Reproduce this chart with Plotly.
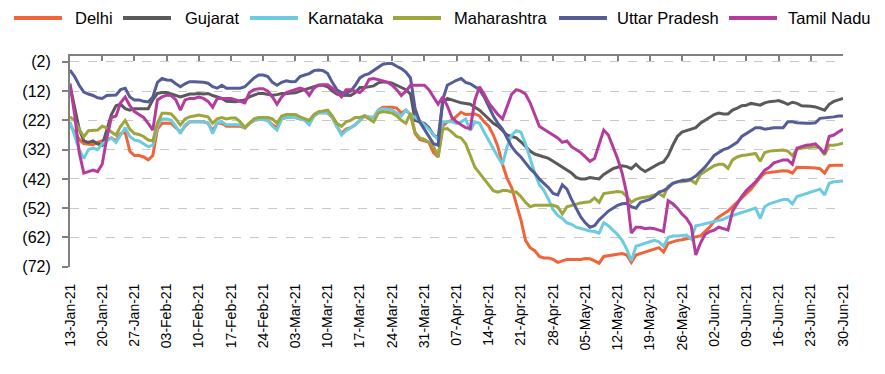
import pandas as pd
import plotly.graph_objects as go

dates = pd.date_range("2021-01-13", "2021-06-30", freq="D").strftime("%Y-%m-%d").tolist()
tick_dates = pd.date_range("2021-01-13", "2021-06-30", freq="7D").strftime("%Y-%m-%d").tolist()
y_ticks = [-2, -12, -22, -32, -42, -52, -62, -72]
y_tick_labels = ["(2)", "(12)", "(22)", "(32)", "(42)", "(52)", "(62)", "(72)"]

delhi = [
    -23.6, -26, -28.5, -29.9, -30, -30.3, -29.5, -29, -28.5, -28, -29, -26.5, -26, -32.5, -34, -34, -34.5, -35.5, -34, -25, -23, -23, -23, -24.5, -26, -24, -22.5, -22.5, -22.5,
    -22.5, -23, -25.5, -23, -23, -24, -24, -24, -24, -24.5, -23, -22, -21.7, -21.7, -22, -23.5, -24.5, -21.5, -21, -21, -21, -21.5, -21.8, -23, -20.5, -19.5, -19.3, -19.5,
    -21, -24, -26.5, -25, -24.5, -23.5, -22, -20.5, -20.8, -21, -18.5, -17.5, -17.5, -17.5, -17.8, -19.5, -18.5, -20, -26.5, -28.5,
    -29, -29.5, -33, -34.5, -24, -22.5, -22, -20.5, -19.2, -20, -20, -19.8, -20.5, -22.5, -24, -27, -31, -37, -41.8, -45,
    -50.5, -56, -63, -65.5, -66.5, -68.5, -69, -69, -69.5, -70.5, -70, -69.5, -69.5, -69.5, -69.5,
    -69.2, -69.3, -70, -70.8, -68.5, -68.3, -68, -67.8, -67.5, -68, -70.5, -68, -67.5, -67, -66.5, -66, -65.5, -67, -64, -63.5,
    -63, -62.8, -62.5, -62.2, -62, -61.5, -60, -58.5, -56.5, -55, -54, -53, -51.5, -50, -48.5, -47, -45.5, -43.5, -41.5, -40,
    -39.8, -39.5, -39.3, -39.2, -39.3, -40, -38, -38, -38.1, -38.2, -38.3, -38.5, -40, -37.5, -37.3, -37.3, -37.3,
]
gujarat = [
    -10, -17, -25, -29, -29.5, -29, -30, -30.5, -25, -20, -17, -16.5, -18, -18.5, -18, -18, -18, -18, -15, -12.8, -12.5, -12.5, -13, -13.5, -14, -13.5, -13, -13, -12.8,
    -13, -12.8, -13.5, -14, -14.5, -15.5, -15.6, -15.6, -15.3, -15, -14, -13.4, -12.8, -12.8, -13, -13.4, -13.2, -12.8, -12.8, -12.8, -12.6, -12, -11.5, -11, -10.5, -10, -10, -10.5,
    -12, -13, -13.4, -13.4, -13.5, -12.5, -10.8, -10.8, -10.5, -10.2, -9.2, -8.8, -9, -9.3, -10, -10.8, -11.5, -13, -22, -22.5,
    -23, -24.5, -27, -28, -16, -14.5, -15, -15.5, -16, -16.2, -16.5, -17.5, -18.5, -20, -21.5, -23, -24, -25.5, -27, -27.5,
    -28, -29.3, -31, -32.5, -33.5, -34, -34.5, -35, -36, -37, -38, -39, -40, -41.5, -42,
    -42, -41.5, -41.8, -42, -40.5, -39.5, -38.5, -38, -37.5, -37.8, -38.5, -37, -38.5, -39.5, -38.5, -37.5, -36.8, -36.2, -34, -30.5,
    -27.5, -26, -25.5, -25, -24.5, -23, -22, -20.8, -20, -19.5, -19.8, -19.8, -18.5, -17.8, -17, -16.8, -16.2, -16.5, -16.8, -16,
    -15.6, -15.5, -15.2, -15.8, -16.5, -15.8, -16.2, -17, -17, -17.2, -17.4, -18, -18.5, -16.5, -15.5, -15, -14.5,
]
karnataka = [
    -22.5, -27, -32, -35, -32, -31.5, -32, -30, -29, -28, -29.5, -27, -24.5, -27.5, -28.7, -29, -30, -31, -30.5, -24, -21.5, -21.5, -22, -24, -26.5, -23.5, -22.5, -22.5, -22.5,
    -22.5, -22.8, -26.5, -23, -22.5, -23.5, -23.5, -23.5, -23.5, -24.5, -23, -22, -21.7, -21.7, -22, -24, -25.3, -21.5, -21, -21, -21, -21.5, -22, -23.5, -20.5, -19.5, -19.3, -19.3,
    -21, -24, -27, -25.5, -24.5, -23.5, -22, -20.5, -20.8, -21, -18.5, -18, -18.2, -18.5, -19.5, -20.5, -18.5, -20, -21, -22,
    -23.5, -25, -27, -28.5, -22.5, -22.5, -22.5, -23, -22.5, -21.5, -25.5, -22.5, -23, -26, -29, -32, -34.5, -37, -31, -27,
    -25.5, -26, -30, -35, -40, -44, -46, -49, -52.5, -54.5, -55.5, -57, -57.5, -58.5, -59,
    -59.5, -59.8, -60, -60.5, -57, -58, -59.5, -61, -63, -66, -70, -65, -64.5, -64, -63.5, -63, -63.5, -65, -62, -61.5,
    -61.5, -61.3, -61.2, -62.5, -58, -57.7, -57.3, -57, -56.6, -56.2, -55.8, -55, -54.5, -54, -53.5, -53, -52.5, -52, -55.5, -51.5,
    -50.5, -50, -49.5, -49, -49, -50.5, -48, -47.5, -47, -46.5, -46, -45.5, -47.5, -43.5, -43, -42.8, -42.7,
]
maharashtra = [
    -20.8, -22, -25, -27.6, -25.5, -25.5, -25.3, -24, -24.5, -26, -27, -24, -22, -25, -26.5, -26.8, -27.5, -28.7, -29, -23, -19.6, -19.6, -19.8, -21.5, -23.6, -21.5, -20.8, -20.5, -20.2,
    -20.5, -20.8, -23, -21.5, -21, -21.5, -21.2, -21.2, -22.5, -24.5, -23, -21.5, -21, -21, -21, -21.5, -23, -20.5, -20, -20, -20, -20.8, -21.5, -22, -20, -19, -18.8, -18.5,
    -20.5, -23, -24, -22.5, -22, -21, -21, -20.5, -21.5, -22.5, -19.5, -19, -19.2, -19.5, -20.5, -22, -23, -19.5, -26, -28,
    -28.5, -29.5, -31, -34.5, -25, -24.8, -26, -27.5, -28, -30, -34, -38, -40, -42, -44, -46, -46.5, -46, -46, -46.5,
    -46.5, -48, -50, -51.5, -51, -51, -51, -51, -51, -51.5, -54, -51.5, -51, -50.5, -50.2,
    -50, -49.8, -48.5, -50, -47, -46.8, -46.5, -46.3, -46.5, -48, -50, -49, -48.5, -48.3, -48, -47.5, -47, -48, -44.5, -43.5,
    -43, -43, -42.8, -42.5, -43.5, -40.5, -39.5, -38.5, -37.5, -37, -37, -38.4, -35.5, -34.5, -34, -33.8, -33.5, -33.3, -36, -33,
    -32.5, -32.3, -32.2, -32.1, -32.5, -34, -31.8, -31.5, -31.3, -31.2, -31, -31.5, -33.8, -30.5, -30.5, -30.2, -29.8,
]
uttar_pradesh = [
    -4.8, -7, -10, -12.3, -13, -13.5, -14.3, -14.5, -13.5, -13.4, -13.3, -11.5, -11, -14, -15, -15, -15.5, -15.7, -14, -9, -7.7, -8.2, -8.3, -9.5, -10.5, -9.5, -8.8, -8.8, -8.8,
    -9, -9.3, -10.5, -11, -10, -11, -11, -11, -11, -10.5, -9, -7.5, -6.5, -6.5, -7, -9, -10, -9, -8.5, -8.8, -8.7, -7, -6.5, -6, -5, -4.8, -5, -6,
    -9, -11.5, -12.5, -12.8, -12, -10, -7.5, -6.5, -6, -5, -4, -2.8, -2.6, -2.6, -3.5, -4.3, -5.5, -7.5, -18, -22.5,
    -25, -27.5, -30, -30.5, -15, -10, -9, -8.3, -7.7, -9, -9.5, -10.5, -11.5, -14, -17.5, -20.5, -23, -25, -28, -31,
    -33, -34.5, -36.5, -38.5, -40, -42, -43.5, -45, -47, -47.5, -44, -45.5, -49, -52, -55,
    -57, -58.5, -58, -56, -54.5, -53, -52, -51, -50.5, -50.3, -51.5, -52, -50, -49.5, -49, -48, -46.5, -46, -45, -43.5,
    -43, -42.5, -42.5, -42, -41, -39.5, -38, -36, -34, -33, -32, -31.5, -30.5, -29.5, -27.5, -26.5, -25.5, -24.5, -24.5, -25,
    -24.8, -24.5, -24.5, -24.5, -22.5, -22.5, -22.8, -23, -23, -23, -22.8, -21.3, -21.2, -21, -20.8, -20.5, -20.5,
]
tamil_nadu = [
    -9.4, -20, -33, -40, -39.5, -39, -39.5, -37, -28, -21, -20.5, -16, -14, -17, -19, -20, -21, -23, -25.3, -15, -14, -13.4, -13.5, -15, -18.5, -15, -14.5, -14.5, -14,
    -14.5, -15.5, -17.5, -14.5, -14.5, -14.5, -14.5, -15, -15.5, -16, -12.5, -11.5, -11.2, -11.2, -12, -14, -16.5, -14, -12.5, -12, -11.5, -11, -11.5, -13.5, -11, -10, -9.8, -9.8,
    -11, -12.5, -14, -11.5, -11.5, -12, -12.5, -11, -8, -7.7, -8, -8.5, -9, -10, -11.5, -13.5, -12, -10, -10, -10,
    -10, -11.5, -14, -16.5, -14, -17, -21, -22.5, -23.5, -24.5, -24.8, -15, -10.5, -13, -16, -18, -20, -21.5, -17, -13,
    -11.5, -12, -13, -16, -20, -24, -25, -26, -27, -28, -29.5, -29, -31, -32, -33,
    -34.5, -36, -35, -30, -25.3, -27, -31, -35, -40, -47, -60.5, -58.5, -58.5, -59, -58.8, -59, -59.5, -60, -49.5, -50.5,
    -52, -54, -55.5, -58, -68, -64, -61, -60, -59.5, -58.5, -59, -59.5, -53, -50.5, -48, -46, -44.5, -43, -41, -39,
    -38, -36.5, -36, -35.5, -35.5, -37, -31.5, -31, -30.5, -30.3, -30, -31.5, -33.3, -27.5, -27, -26, -25,
]

names = ["Delhi", "Gujarat", "Karnataka", "Maharashtra", "Uttar Pradesh", "Tamil Nadu"]
values = [delhi, gujarat, karnataka, maharashtra, uttar_pradesh, tamil_nadu]
colors = ["#F0643A", "#5A5A5A", "#6CCBE0", "#9DA63C", "#555C98", "#B43C9C"]

fig = go.Figure()
for name, vals, color in zip(names, values, colors):
    assert len(vals) == len(dates), (name, len(vals))
    fig.add_trace(go.Scatter(x=dates, y=vals, name=name, mode="lines",
                             line=dict(color=color, width=3), showlegend=False))

# invisible trace that carries the top axis line
fig.add_trace(go.Scatter(x=[dates[0], dates[-1]], y=[None, None], xaxis="x2",
                         showlegend=False, hoverinfo="skip", mode="lines"))

font = "Liberation Sans, Arial, sans-serif"
xr = [dates[0], dates[-1]]
W, H = 869, 358          # page body keeps an 8px margin
ML, MR, MT, MB = 62, 34, 48, 99
PW, PH = W - ML - MR, H - MT - MB

# hand-placed legend row (figure pixels): sample line start, text start
legend_line_x = [6, 115, 242, 385, 551, 721]
legend_text_x = [65, 175, 298, 444, 607, 778]
legend_y_px = 10
ly = 1 + (MT - legend_y_px) / PH
shapes, annotations = [], []
for name, color, lx, tx in zip(names, colors, legend_line_x, legend_text_x):
    shapes.append(dict(type="line", xref="paper", yref="paper",
                       x0=(lx - ML) / PW, x1=(lx + 48 - ML) / PW, y0=ly, y1=ly,
                       line=dict(color=color, width=4)))
    annotations.append(dict(text=name, xref="paper", yref="paper", x=(tx - ML) / PW, y=ly,
                            xanchor="left", yanchor="middle", showarrow=False,
                            font=dict(size=16.5, family=font, color="#000000")))

fig.update_layout(
    width=W, height=H,
    margin=dict(l=ML, r=MR, t=MT, b=MB, autoexpand=False),
    paper_bgcolor="white", plot_bgcolor="white",
    font=dict(family=font, color="#000000"),
    showlegend=False,
    shapes=shapes, annotations=annotations,
    xaxis=dict(range=xr, tickvals=tick_dates, tickformat="%d-%b-%y", tickangle=-90,
               tickfont=dict(size=14, family=font), showgrid=False, showline=False,
               ticks="outside", ticklen=10, tickcolor="rgba(0,0,0,0)", zeroline=False),
    xaxis2=dict(range=xr, overlaying="x", side="top", matches="x", tickvals=tick_dates,
                showticklabels=False, showline=True, linecolor="#808080", linewidth=2,
                ticks="inside", ticklen=5, tickcolor="#808080", tickwidth=1.5,
                showgrid=False, zeroline=False),
    yaxis=dict(range=[-72.1, 0], tickvals=y_ticks, ticktext=y_tick_labels,
               tickfont=dict(size=16, family=font), showline=True, linecolor="#808080",
               linewidth=2, ticks="outside", ticklen=6, tickcolor="#808080", tickwidth=1.5,
               ticklabelstandoff=8,
               showgrid=True, gridcolor="#C8C8C8", griddash="dash", gridwidth=1,
               zeroline=False),
)

fig.write_html("out.html")
